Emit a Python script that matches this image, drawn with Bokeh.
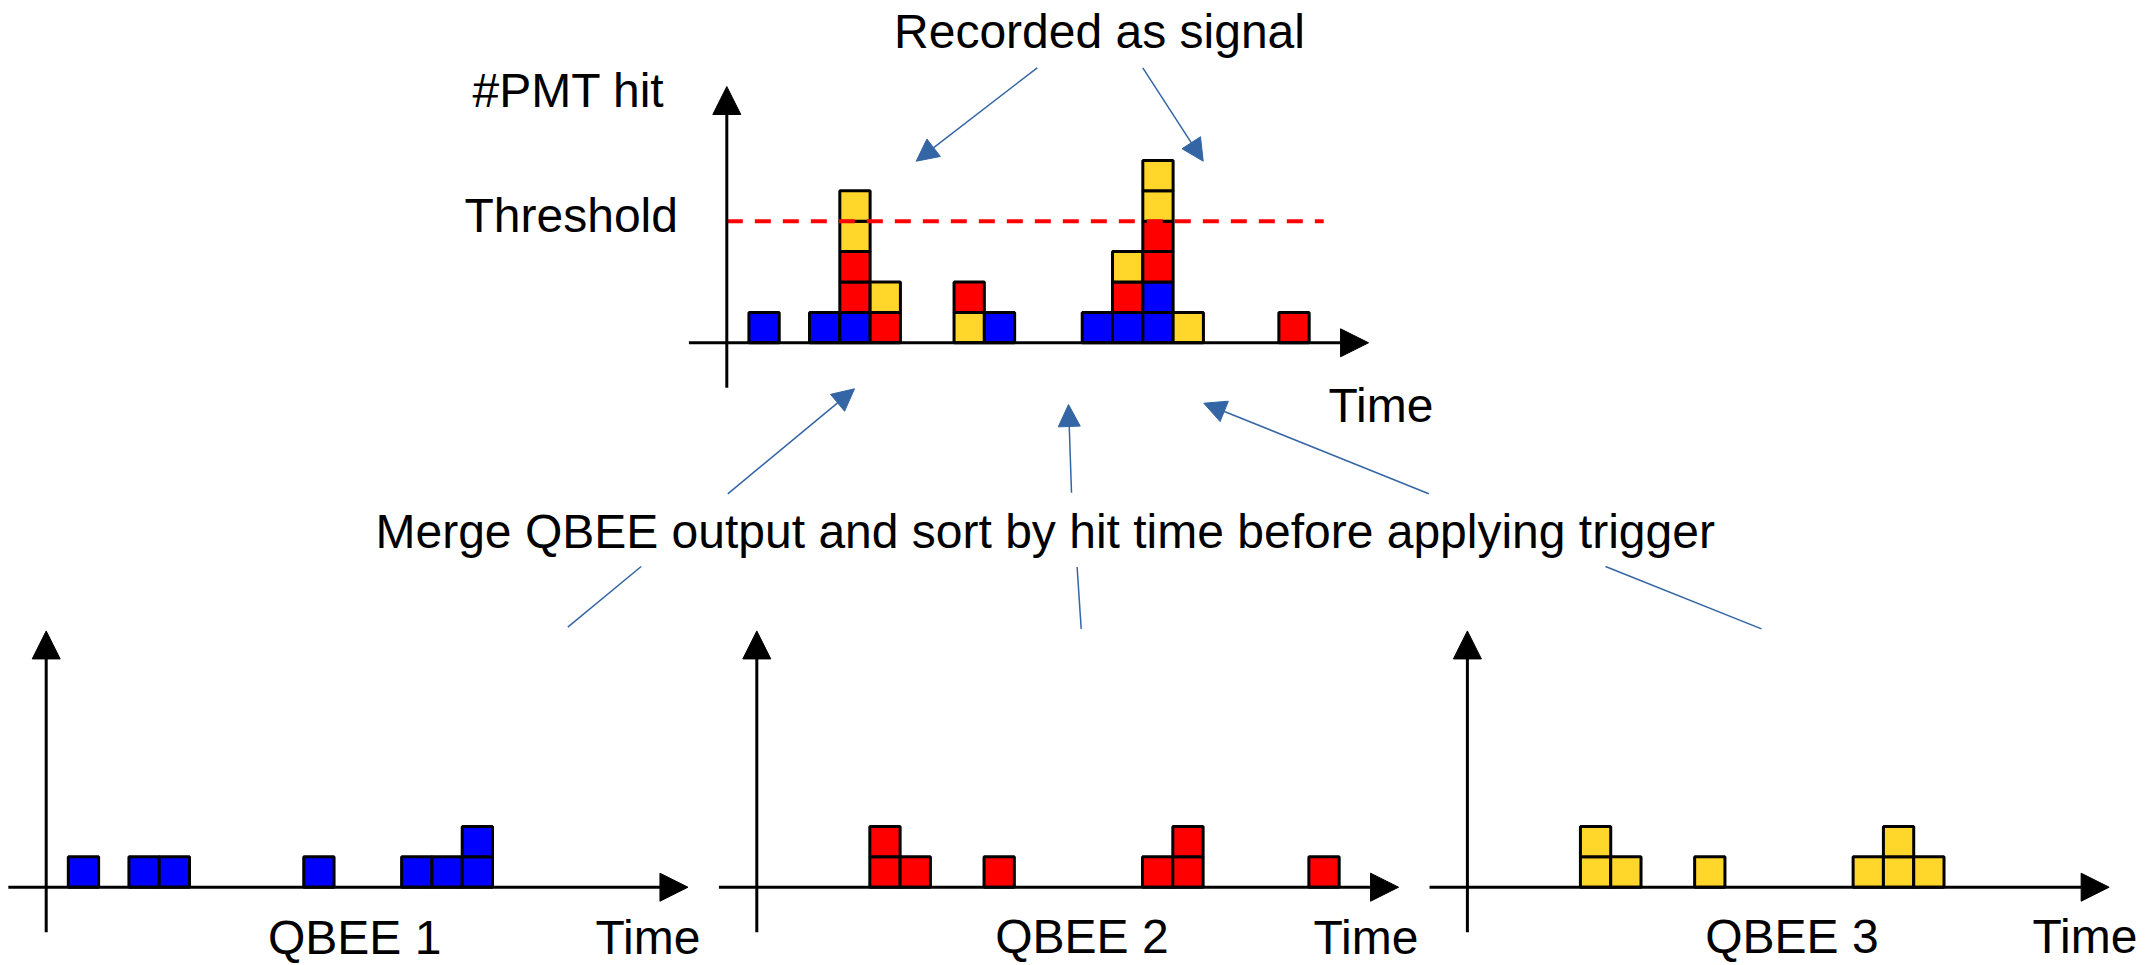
from bokeh.plotting import figure
from bokeh.models import Range1d, Label, Arrow, NormalHead
from bokeh.embed import file_html
from bokeh.resources import INLINE

# ---------------- data (time in bin units, one entry per PMT hit) ----------------
qbee1_hits = [0.73, 2.73, 3.73, 8.5, 11.73, 12.73, 13.73, 13.73]
qbee2_hits = [3.73, 3.73, 4.73, 7.5, 12.73, 13.73, 13.73, 18.22]
qbee3_hits = [3.73, 3.73, 4.73, 7.5, 12.73, 13.73, 13.73, 14.73]

# merged stream, sorted by hit time (stacking order bottom -> top)
merged_times = [0.73, 2.73, 3.73, 3.73, 3.73, 3.73, 3.73, 4.73, 4.73, 7.5, 7.5,
                8.5, 11.73, 12.73, 12.73, 12.73, 13.73, 13.73, 13.73, 13.73,
                13.73, 13.73, 14.73, 18.22]
merged_source = [1, 1, 1, 2, 2, 3, 3, 2, 3, 3, 2,
                 1, 1, 1, 2, 3, 1, 1, 2, 2,
                 3, 3, 3, 2]

threshold = 4
threshold_end = 19.7

qbee_names = ["QBEE 1", "QBEE 2", "QBEE 3"]
qbee_colors = {1: "#0000FF", 2: "#FF0000", 3: "#FFD629"}

# ---------------- canvas ----------------
W, H = 2156, 965
FONT = "Liberation Sans"
ARROW_BLUE = "#3465A4"
TEXT_SHIFT = 16.5  # compensation for label baseline placement

p = figure(width=W, height=H, x_range=Range1d(0, W), y_range=Range1d(H, 0),
           output_backend="svg", toolbar_location=None, x_axis_type=None,
           y_axis_type=None, min_border=0, outline_line_color=None)
p.background_fill_color = "white"
p.border_fill_color = "white"

UX, UY = 30.3, 30.4
panels = {"top": (726.3, 342.3), "q1": (45.7, 886.7),
          "q2": (756.3, 886.7), "q3": (1466.9, 886.7)}
xr, yr = {}, {}
for name, (ox, oy) in panels.items():
    xr[name] = Range1d((0 - ox) / UX, (W - ox) / UX)
    yr[name] = Range1d((oy - H) / UY, (oy - 0) / UY)
p.extra_x_ranges = xr
p.extra_y_ranges = yr


def stack_levels(times):
    seen = {}
    lv = []
    for t in times:
        lv.append(seen.get(t, 0))
        seen[t] = seen.get(t, 0) + 1
    return lv


def draw_cells(name, times, colors):
    lv = stack_levels(times)
    p.quad(left=times, right=[t + 1 for t in times], bottom=lv,
           top=[l + 1 for l in lv], fill_color=colors, line_color="black",
           line_width=3, x_range_name=name, y_range_name=name)


def draw_axes(name):
    for xs, ys, xe, ye in [(-1.25, 0, 21.18, 0), (0, -1.48, 0, 8.43)]:
        p.add_layout(Arrow(x_start=xs, y_start=ys, x_end=xe, y_end=ye,
                           x_range_name=name, y_range_name=name,
                           line_width=3, line_color="black",
                           end=NormalHead(size=28, fill_color="black",
                                          line_color="black", line_width=1)))


# top merged chart
draw_cells("top", merged_times, [qbee_colors[s] for s in merged_source])
draw_axes("top")
p.line(x=[0, threshold_end], y=[threshold, threshold], line_color="#FF0000",
       line_width=4, line_dash="16 12", x_range_name="top", y_range_name="top")

# bottom QBEE charts
for i, (name, hits) in enumerate(zip(["q1", "q2", "q3"],
                                     [qbee1_hits, qbee2_hits, qbee3_hits])):
    draw_cells(name, hits, [qbee_colors[i + 1]] * len(hits))
    draw_axes(name)

# connectors
head_arrows = [((1036.7, 67.3), (915.7, 160.7)),
               ((1142.3, 67.3), (1202.7, 160.7)),
               ((727.3, 493.3), (854.0, 388.3)),
               ((1071.0, 492.3), (1068.0, 404.0)),
               ((1428.3, 493.3), (1203.3, 402.7))]
for (x0, y0), (x1, y1) in head_arrows:
    p.add_layout(Arrow(x_start=x0, y_start=y0, x_end=x1, y_end=y1,
                       line_color=ARROW_BLUE, line_width=1.5,
                       end=NormalHead(size=22, fill_color=ARROW_BLUE,
                                      line_color=ARROW_BLUE, line_width=1)))
plain = [((640.7, 566.0), (567.3, 626.7)),
         ((1076.6, 566.5), (1080.7, 628.4)),
         ((1605.0, 566.0), (1761.0, 628.4))]
p.segment(x0=[a[0][0] for a in plain], y0=[a[0][1] for a in plain],
          x1=[a[1][0] for a in plain], y1=[a[1][1] for a in plain],
          line_color=ARROW_BLUE, line_width=1.5)

# texts (x, baseline y in page pixels)
texts = [("Recorded as signal", 1099, 47, "center"),
         ("#PMT hit", 472, 106.5, "left"),
         ("Threshold", 464, 231.7, "left"),
         ("Time", 1328, 421.7, "left"),
         ("Merge QBEE output and sort by hit time before applying trigger", 375, 547, "left"),
         (qbee_names[0], 267.5, 953, "left"),
         ("Time", 595, 953, "left"),
         (qbee_names[1], 994.7, 952, "left"),
         ("Time", 1313, 953, "left"),
         (qbee_names[2], 1704.7, 952, "left"),
         ("Time", 2032, 952, "left")]
for t, x, y, al in texts:
    p.add_layout(Label(x=x, y=y - TEXT_SHIFT, text=t, text_font=FONT,
                       text_font_size="48px", text_color="black",
                       text_baseline="alphabetic", text_align=al))

open("out.html", "w").write(file_html(p, INLINE))
